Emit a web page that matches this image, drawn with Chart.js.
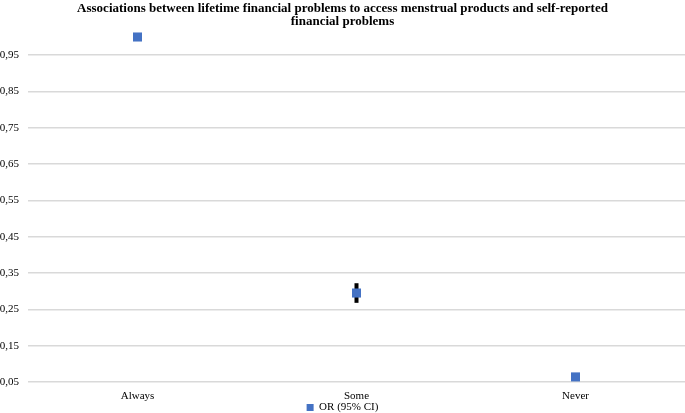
<!DOCTYPE html>
<html>
<head>
<meta charset="utf-8">
<script src="https://cdn.jsdelivr.net/npm/chart.js@4/dist/chart.umd.min.js"></script>
<style>
  html, body { margin: 0; padding: 0; background: #fff; }
  #wrap { width: 685px; height: 413px; }
</style>
</head>
<body>
<div id="wrap"><canvas id="chart"></canvas></div>
<script>
const categories = ['Always', 'Some', 'Never'];
const orValues = [1.0, 0.295, 0.064];
const ciLow = [null, 0.268, null];
const ciHigh = [null, 0.322, null];
const yTicks = [0.05, 0.15, 0.25, 0.35, 0.45, 0.55, 0.65, 0.75, 0.85, 0.95];

// draws the black CI whiskers behind the markers
const errorBars = {
  id: 'errorBars',
  beforeDatasetsDraw(chart) {
    const ctx = chart.ctx;
    const x = chart.scales.x;
    const y = chart.scales.y;
    ctx.save();
    ctx.strokeStyle = '#000';
    ctx.lineWidth = 4;
    categories.forEach((c, i) => {
      if (ciLow[i] == null) return;
      const px = x.getPixelForValue(i);
      ctx.beginPath();
      ctx.moveTo(px, y.getPixelForValue(ciLow[i]));
      ctx.lineTo(px, y.getPixelForValue(ciHigh[i]));
      ctx.stroke();
    });
    ctx.restore();
  }
};

new Chart(document.getElementById('chart'), {
  type: 'line',
  data: {
    labels: categories,
    datasets: [{
      label: 'OR (95% CI)',
      data: orValues,
      showLine: false,
      pointStyle: 'rect',
      pointRadius: 6.4,
      pointHoverRadius: 6.4,
      backgroundColor: '#4472C4',
      borderColor: '#4472C4',
      borderWidth: 0,
      clip: false
    }]
  },
  plugins: [errorBars],
  options: {
    responsive: true,
    maintainAspectRatio: false,
    animation: false,
    layout: { autoPadding: false, padding: { top: 2, right: 0, left: 0, bottom: -10 } },
    plugins: {
      title: {
        display: true,
        text: ['Associations between lifetime financial problems to access menstrual products and self-reported', 'financial problems'],
        color: '#000',
        font: { family: 'Liberation Serif', size: 13, weight: 'bold', lineHeight: 1.0 },
        padding: { top: 0, bottom: 9 }
      },
      legend: {
        position: 'bottom',
        labels: {
          usePointStyle: true,
          pointStyle: 'rect',
          boxWidth: 7,
          boxHeight: 7,
          padding: 0,
          color: '#000',
          font: { family: 'Liberation Serif', size: 11 }
        }
      },
      tooltip: { enabled: false }
    },
    scales: {
      x: {
        offset: true,
        grid: { display: false, drawTicks: false },
        border: { display: false },
        afterFit(scale) { scale.height = 20; },
        ticks: { color: '#000', font: { family: 'Liberation Serif', size: 11 }, padding: 8 }
      },
      y: {
        min: 0.05,
        max: 1.0,
        afterFit(scale) { scale.width = 28; },
        afterBuildTicks(scale) {
          scale.ticks = yTicks.map(v => ({ value: v }));
        },
        grid: { color: '#d9d9d9', lineWidth: 1.5, drawTicks: false },
        border: { display: false },
        ticks: {
          color: '#000',
          padding: 9,
          font: { family: 'Liberation Serif', size: 11 },
          callback: v => v.toFixed(2).replace('.', ',')
        }
      }
    }
  }
});
</script>
</body>
</html>
